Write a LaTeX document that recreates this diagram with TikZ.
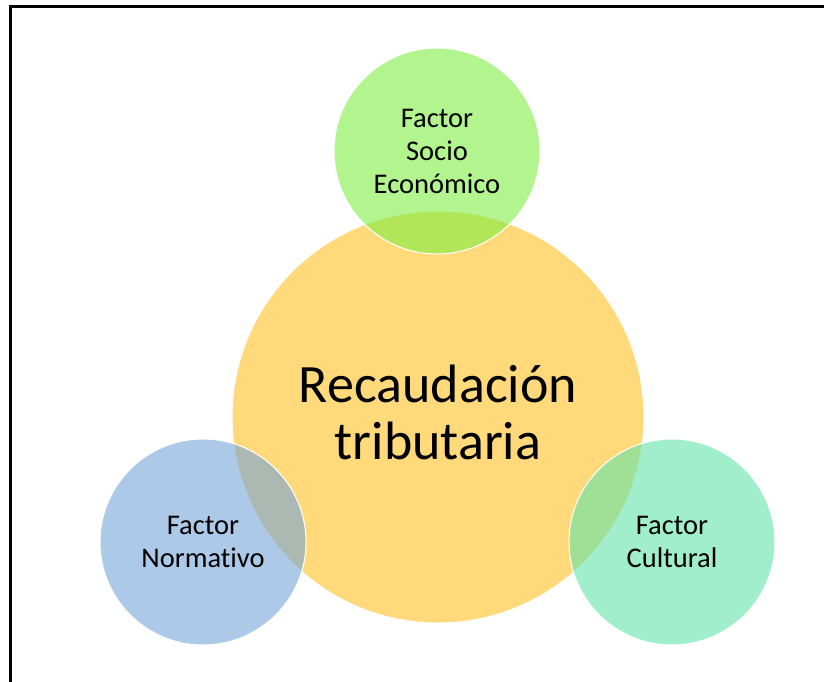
\documentclass[tikz,border=0pt]{standalone}
\usepackage{fontspec}
\setmainfont{Carlito}[Ligatures=NoCommon]
\usetikzlibrary{positioning}
\definecolor{recfill}{RGB}{255,217,122}
\definecolor{socfill}{RGB}{127,239,67}
\definecolor{normfill}{RGB}{117,165,217}
\definecolor{cultfill}{RGB}{97,227,170}

\begin{document}
\begin{tikzpicture}[x=1pt, y=-1pt]
	\tikzset{
	every node/.style={align=center, text=black}, % centred text in all nodes
	bigcircle/.style={circle, draw=white, line width=1pt, fill=recfill, minimum size=412pt}, % main circle
	bigtext/.style={font=\fontsize{54}{57}\selectfont}, % text of the main circle
	factor/.style={circle, draw=white, line width=1pt, fill opacity=0.6, text opacity=1, minimum size=206pt, inner sep=0pt, font=\fontsize{28.5}{33}\selectfont} % the three factors
	}
	\clip (0,0) rectangle (824,681);
	\useasboundingbox (0,0) rectangle (824,681);
	% frame, only top and left side visible
	\draw[line width=3pt] (10,700) -- (10,6) -- (840,6);
	
	\node[bigcircle] (rec) at (438,417) {};
	\node[bigtext] (rectext) at (438,412) {Recaudación\\tributaria};
	\node[factor, fill=socfill]  (socio) at (437,151) {Factor\\Socio\\Económico};
	\node[factor, fill=normfill] (norm)  at (203,542) {Factor\\Normativo};
	\node[factor, fill=cultfill] (cult)  at (672,542) {Factor\\Cultural};
\end{tikzpicture}
\end{document}
